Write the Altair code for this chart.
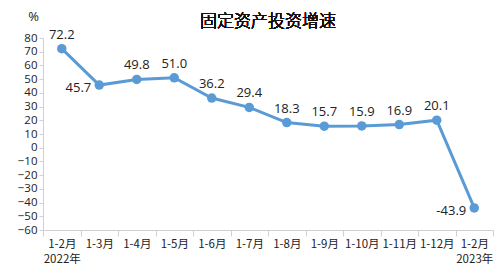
import altair as alt
import pandas as pd

periods = ["1-2月", "1-3月", "1-4月", "1-5月", "1-6月", "1-7月", "1-8月",
           "1-9月", "1-10月", "1-11月", "1-12月", "1-2月"]
years = ["2022年", "", "", "", "", "", "", "", "", "", "", "2023年"]
values = [72.2, 45.7, 49.8, 51.0, 36.2, 29.4, 18.3, 15.7, 15.9, 16.9, 20.1, -43.9]
left_labelled = [1, 11]

df = pd.DataFrame({
    "idx": list(range(len(values))),
    "value": values,
    "label": [f"{v:.1f}" for v in values],
})

FONT = "Noto Sans CJK SC"
NUMFONT = "Open Sans"
BLUE = "#5B9BD5"
AXIS = "#D0D0D0"

label_js = "[" + ",".join(
    "[" + ",".join(f"'{s}'" for s in ([p, y] if y else [p])) + "]"
    for p, y in zip(periods, years)
) + "]"

x = alt.X("idx:O",
          scale=alt.Scale(paddingInner=0, paddingOuter=0),
          axis=alt.Axis(title=None, labelAngle=0, labelExpr=f"{label_js}[datum.value]",
                        tickBand="extent", domainColor=AXIS, tickColor=AXIS,
                        tickSize=6, labelFont=FONT, labelFontSize=11.5,
                        labelColor="#222", labelPadding=2, labelLineHeight=15,
                        labelBaseline="top"))
y = alt.Y("value:Q",
          scale=alt.Scale(domain=[-60, 80], nice=False),
          axis=alt.Axis(values=list(range(-60, 81, 10)), grid=False, title="%",
                        titleAngle=0, titleX=-10, titleY=-22, titleFont=NUMFONT,
                        titleFontSize=13, titleFontWeight="normal", titleColor="#222",
                        titleAlign="center", titleBaseline="middle",
                        domainColor=AXIS, tickColor=AXIS, tickSize=4,
                        labelFont=NUMFONT, labelFontSize=11.5, labelColor="#222",
                        labelPadding=2))

base = alt.Chart(df)
line = base.mark_line(color=BLUE, strokeWidth=3).encode(x=x, y=y)
pts = base.mark_circle(color=BLUE, size=90, opacity=1).encode(x=x, y=y)
cond = " || ".join(f"datum.idx == {i}" for i in left_labelled)
above = base.transform_filter(f"!({cond})").mark_text(
    font=NUMFONT, fontSize=13, color="#222", dy=-14).encode(x=x, y=y, text="label:N")
left = base.transform_filter(cond).mark_text(
    font=NUMFONT, fontSize=13, color="#222", align="right", dx=-8, dy=3).encode(
    x=x, y=y, text="label:N")

title = alt.Chart(df).mark_text(
    font=FONT, fontSize=17, fontWeight=300, color="#111", align="center",
    baseline="middle"
).encode(x=alt.value(225), y=alt.value(-16), text=alt.value("固定资产投资增速"))

chart = alt.layer(line, pts, above, left, title).properties(
    width=450, height=192,
    autosize=alt.AutoSizeParams(type="none"),
    padding={"left": 43, "top": 38, "right": 6, "bottom": 41},
).configure_view(stroke=None)

chart.save("out.html", embed_options={"renderer": "svg", "actions": False})
